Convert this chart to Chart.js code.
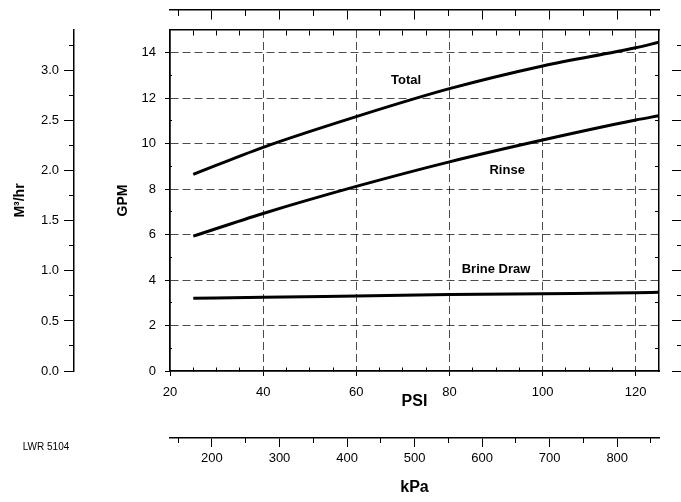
<!DOCTYPE html>
<html>
<head>
<meta charset="utf-8">
<script src="https://cdn.jsdelivr.net/npm/chart.js@4.4.1/dist/chart.umd.min.js"></script>
<style>
    html, body { margin: 0; padding: 0; background: #fff; }
    #wrap { width: 681px; height: 502px; }
</style>
</head>
<body>
<div id="wrap"><canvas id="grafik" width="681" height="502"></canvas></div>
<script>
// values (GPM vs PSI)
const psiValues = [25, 40, 60, 80, 100, 120, 125];
const totalGpm = [8.65, 9.84, 11.19, 12.42, 13.42, 14.22, 14.46];
const rinseGpm = [5.93, 6.93, 8.12, 9.2, 10.16, 11.04, 11.23];
const brineGpm = [3.2, 3.24, 3.3, 3.36, 3.4, 3.44, 3.46];

// curve names and where they sit (PSI, GPM)
const curveNames = ['Total', 'Rinse', 'Brine Draw'];
const namePsi = [70.7, 92.4, 90.0];
const nameGpm = [12.8, 8.84, 4.49];

// tick labels
const psiTicks = [20, 40, 60, 80, 100, 120];
const psiMinor = [25, 30, 35, 45, 50, 55, 65, 70, 75, 85, 90, 95, 105, 110, 115];
const gpmTicks = [0, 2, 4, 6, 8, 10, 12, 14];
const gpmMinor = [1, 3, 5, 7, 9, 11, 13];
const m3Ticks = [0, 0.5, 1.0, 1.5, 2.0, 2.5, 3.0];
const m3Minor = [0.25, 0.75, 1.25, 1.75, 2.25, 2.75, 3.25];
const kpaTicks = [200, 300, 400, 500, 600, 700, 800];
const kpaMinor = [150, 250, 350, 450, 550, 650, 750, 850];

const psiMin = 20, psiMax = 125;
const gpmMin = 0, gpmMax = 15;
const GPM_TO_M3H = 0.2271247;
const PSI_TO_KPA = 6.894757;

const fontName = '"Liberation Sans", Arial, sans-serif';

function punkte(werte) {
    return psiValues.map(function (p, i) {
        return { x: p, y: werte[i] };
    });
}

function kurve(label, werte) {
    return {
        label: label,
        data: punkte(werte),
        borderColor: '#000',
        borderWidth: 3,
        pointRadius: 0,
        fill: false,
        cubicInterpolationMode: 'monotone',
        xAxisID: 'x',
        yAxisID: 'y'
    };
}

// scale that only draws tick marks (and maybe its line)
function nurStriche(achse, lage, min, max, werte, laenge, mitLinie) {
    return {
        type: 'linear',
        axis: achse,
        position: lage,
        min: min,
        max: max,
        afterBuildTicks: function (s) {
            s.ticks = werte.map(function (v) { return { value: v }; });
        },
        ticks: { display: false },
        grid: {
            drawOnChartArea: false,
            tickLength: laenge,
            tickColor: '#000',
            tickWidth: 1,
            tickBorderDash: []
        },
        border: { display: mitLinie, color: '#000', width: 1.5 }
    };
}

// dashed grid, but none on the frame edge itself
function gitter(randWert) {
    return {
        color: function (c) {
            return c.tick && c.tick.value === randWert ? 'rgba(0,0,0,0)' : 'rgba(0,0,0,0.7)';
        },
        lineWidth: 1,
        tickColor: '#000',
        tickLength: 5,
        tickBorderDash: []
    };
}

const beschriftung = {
    id: 'beschriftung',
    afterDatasetsDraw: function (chart) {
        const ctx = chart.ctx;
        const sx = chart.scales.x;
        const sy = chart.scales.y;
        ctx.save();
        ctx.fillStyle = '#000';
        ctx.textAlign = 'center';
        ctx.textBaseline = 'middle';
        ctx.font = 'bold 13px ' + fontName;
        curveNames.forEach(function (n, i) {
            ctx.fillText(n, sx.getPixelForValue(namePsi[i]), sy.getPixelForValue(nameGpm[i]));
        });
        ctx.font = '10px ' + fontName;
        ctx.fillText('LWR 5104', 46, 447);
        ctx.restore();
    }
};

new Chart(document.getElementById('grafik'), {
    type: 'line',
    data: {
        datasets: [
            kurve('Total', totalGpm),
            kurve('Rinse', rinseGpm),
            kurve('Brine Draw', brineGpm)
        ]
    },
    plugins: [beschriftung],
    options: {
        responsive: false,
        animation: false,
        devicePixelRatio: 1,
        layout: { padding: { left: 0, top: 30, right: 22, bottom: 0 } },
        plugins: {
            legend: { display: false },
            tooltip: { enabled: false }
        },
        scales: {
            x: {
                type: 'linear',
                position: 'bottom',
                weight: 0,
                min: psiMin,
                max: psiMax,
                afterBuildTicks: function (s) {
                    s.ticks = psiTicks.map(function (v) { return { value: v }; });
                },
                afterFit: function (s) { s.height = 67; },
                ticks: { color: '#000', padding: 9, font: { family: fontName, size: 13 } },
                grid: gitter(psiMin),
                border: { color: '#000', width: 1.5, dash: [8, 4] },
                title: {
                    display: true, text: 'PSI', color: '#000',
                    font: { family: fontName, size: 16, weight: 'bold' },
                    padding: { top: 0, bottom: 27 }
                }
            },
            xKpa: {
                type: 'linear',
                axis: 'x',
                position: 'bottom',
                weight: 1,
                min: psiMin * PSI_TO_KPA,
                max: psiMax * PSI_TO_KPA,
                afterBuildTicks: function (s) {
                    s.ticks = kpaTicks.map(function (v) { return { value: v }; });
                },
                afterFit: function (s) { s.height = 64; },
                ticks: { color: '#000', padding: 4, font: { family: fontName, size: 13 } },
                grid: { drawOnChartArea: false, tickLength: 9, tickColor: '#000' },
                border: { color: '#000', width: 1.5 },
                title: {
                    display: true, text: 'kPa', color: '#000',
                    font: { family: fontName, size: 16, weight: 'bold' },
                    padding: { top: 0, bottom: 5 }
                }
            },
            y: {
                type: 'linear',
                position: 'left',
                weight: 0,
                min: gpmMin,
                max: gpmMax,
                afterBuildTicks: function (s) {
                    s.ticks = gpmTicks.map(function (v) { return { value: v }; });
                },
                afterFit: function (s) { s.width = 96; },
                ticks: { color: '#000', padding: 9, font: { family: fontName, size: 13 } },
                grid: gitter(gpmMin),
                border: { color: '#000', width: 1.5, dash: [8, 4] },
                title: {
                    display: true, text: 'GPM', color: '#000',
                    font: { family: fontName, size: 14, weight: 'bold' },
                    padding: { top: 41, bottom: 0 }
                }
            },
            yM3: {
                type: 'linear',
                axis: 'y',
                position: 'left',
                weight: 1,
                min: gpmMin * GPM_TO_M3H,
                max: gpmMax * GPM_TO_M3H,
                afterBuildTicks: function (s) {
                    s.ticks = m3Ticks.map(function (v) { return { value: v }; });
                },
                afterFit: function (s) { s.width = 74; },
                ticks: {
                    color: '#000', padding: 5, font: { family: fontName, size: 13 },
                    callback: function (v) { return v.toFixed(1); }
                },
                grid: { drawOnChartArea: false, tickLength: 10, tickColor: '#000' },
                border: { color: '#000', width: 1.5 },
                title: {
                    display: true, text: 'M³/hr', color: '#000',
                    font: { family: fontName, size: 14, weight: 'bold' },
                    padding: { top: 12, bottom: 0 }
                }
            },
            // extra tick marks and frame lines
            yM3Minor: nurStriche('y', { x: -0.614 }, gpmMin * GPM_TO_M3H, gpmMax * GPM_TO_M3H, m3Minor, 5, false),
            yM3Rechts: nurStriche('y', { x: 129.8 }, gpmMin * GPM_TO_M3H, gpmMax * GPM_TO_M3H, m3Ticks, 9, false),
            yM3RechtsMinor: nurStriche('y', { x: 129.8 }, gpmMin * GPM_TO_M3H, gpmMax * GPM_TO_M3H, m3Minor, 4, false),
            xKpaMinor: nurStriche('x', { y: -2.947 }, psiMin * PSI_TO_KPA, psiMax * PSI_TO_KPA, kpaMinor, 5, false),
            xKpaOben: nurStriche('x', { y: 15.88 }, psiMin * PSI_TO_KPA, psiMax * PSI_TO_KPA, kpaTicks, 9, true),
            xKpaObenMinor: nurStriche('x', { y: 15.88 }, psiMin * PSI_TO_KPA, psiMax * PSI_TO_KPA, kpaMinor, 6, false),
            xPsiInnen: nurStriche('x', { y: 0 }, psiMin, psiMax, psiMinor, -4, true),
            xPsiOben: nurStriche('x', { y: 15 }, psiMin, psiMax, psiMinor, 5, true),
            yGpmInnen: nurStriche('y', { x: 20 }, gpmMin, gpmMax, gpmMinor, -3, true),
            yGpmRechts: nurStriche('y', { x: 125 }, gpmMin, gpmMax, gpmMinor, 3, true)
        }
    }
});
</script>
</body>
</html>
